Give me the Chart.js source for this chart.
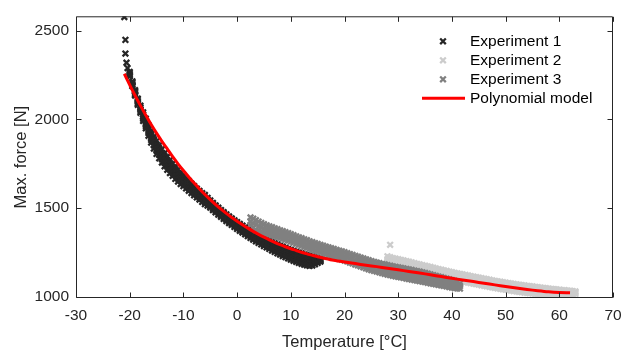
<!DOCTYPE html>
<html>
<head>
<meta charset="utf-8">
<script src="https://cdn.jsdelivr.net/npm/chart.js@4.4.1/dist/chart.umd.min.js"></script>
<style>
html,body{margin:0;padding:0;background:#ffffff;}
#wrap{width:635px;height:352px;}
</style>
</head>
<body>
<div id="wrap"><canvas id="c" width="635" height="352"></canvas></div>
<script>
// ---- tick labels ----
const xTicks = [-30, -20, -10, 0, 10, 20, 30, 40, 50, 60, 70];
const yTicks = [1000, 1500, 2000, 2500];

// ---- Experiment 1 ----
const exp1OutTemp  = [-21.0, -20.8, -20.8, -20.6, -20.4];
const exp1OutForce = [2578, 2449, 2372, 2320, 2290];
const exp1Temp = [-20,-19.5,-19,-18.5,-18,-17.5,-17,-16.5,-16,-15.5,-15,-14.5,-14,-13.5,-13,-12.5,-12,-11.5,-11,-10.5,-10,-9.5,-9,-8.5,-8,-7.5,-7,-6.5,-6,-5.5,-5,-4.5,-4,-3.5,-3,-2.5,-2,-1.5,-1,-0.5,0,0.5,1,1.5,2,2.5,3,3.5,4,4.5,5,5.5,6,6.5,7,7.5,8,8.5,9,9.5,10,10.5,11,11.5,12,12.5,13,13.5,14,14.5,15,15.5];
const exp1High   = [2268,2215,2165,2118,2078,2040,2005,1968,1935,1905,1878,1855,1832,1810,1790,1770,1752,1734,1717,1700,1684,1668,1653,1638,1624,1610,1597,1584,1574,1558,1543,1529,1515,1502,1489,1477,1465,1453,1442,1431,1421,1411,1401,1391,1382,1373,1364,1355,1347,1339,1331,1323,1316,1309,1302,1295,1288,1282,1276,1270,1265,1259,1254,1249,1244,1239,1235,1231,1227,1223,1219,1214];
const exp1Upper  = [2262,2208,2158,2110,2068,2028,1991,1955,1918,1889,1860,1838,1812,1793,1771,1753,1733,1718,1699,1685,1668,1655,1639,1626,1611,1599,1584,1573,1560,1548,1532,1520,1505,1494,1479,1469,1455,1445,1432,1423,1411,1403,1391,1382,1371,1364,1353,1346,1335,1329,1319,1313,1303,1298,1289,1284,1275,1270,1262,1258,1250,1246,1239,1236,1229,1226,1220,1217,1214,1213,1212,1210];
const exp1Mid    = [2255,2200,2150,2100,2058,2016,1976,1940,1900,1872,1840,1820,1792,1775,1751,1736,1714,1702,1681,1670,1652,1642,1624,1614,1597,1588,1570,1562,1546,1538,1520,1511,1494,1485,1468,1460,1444,1437,1421,1415,1400,1394,1380,1373,1360,1354,1341,1336,1323,1319,1306,1302,1290,1287,1275,1272,1261,1258,1247,1245,1235,1233,1223,1222,1213,1212,1204,1203,1200,1203,1205,1206];
const exp1Lower  = [2249,2194,2142,2092,2048,2004,1963,1924,1885,1854,1823,1800,1775,1755,1734,1717,1698,1684,1666,1653,1638,1627,1611,1600,1585,1574,1559,1549,1534,1526,1512,1500,1485,1474,1460,1450,1436,1427,1413,1405,1392,1383,1371,1363,1351,1343,1332,1325,1314,1307,1296,1290,1280,1274,1264,1259,1250,1244,1235,1231,1222,1218,1210,1207,1200,1197,1191,1189,1188,1193,1198,1202];
const exp1Low    = [2243,2188,2135,2083,2038,1992,1950,1908,1870,1836,1806,1781,1757,1736,1716,1698,1682,1665,1650,1636,1624,1611,1598,1585,1572,1560,1548,1535,1522,1514,1503,1489,1476,1463,1451,1439,1427,1416,1405,1394,1383,1372,1362,1352,1342,1332,1322,1313,1304,1295,1286,1278,1270,1261,1253,1245,1238,1230,1223,1216,1209,1203,1197,1191,1186,1181,1177,1174,1176,1183,1191,1198];

// ---- Experiment 2 ----
const exp2OutTemp  = [28.5];
const exp2OutForce = [1293];
const exp2Temp = [28,28.5,29,29.5,30,30.5,31,31.5,32,32.5,33,33.5,34,34.5,35,35.5,36,36.5,37,37.5,38,38.5,39,39.5,40,40.5,41,41.5,42,42.5,43,43.5,44,44.5,45,45.5,46,46.5,47,47.5,48,48.5,49,49.5,50,50.5,51,51.5,52,52.5,53,53.5,54,54.5,55,55.5,56,56.5,57,57.5,58,58.5,59,59.5,60,60.5,61,61.5,62,62.5,63];
const exp2High = [1228,1223,1218,1215,1212,1208,1205,1201,1198,1194,1190,1186,1182,1178,1175,1171,1168,1164,1160,1156,1153,1149,1146,1142,1139,1135,1132,1129,1126,1123,1120,1117,1114,1111,1108,1105,1102,1099,1096,1093,1090,1087,1085,1082,1080,1077,1075,1072,1070,1068,1066,1064,1062,1060,1058,1056,1054,1052,1050,1048,1046,1044,1043,1041,1040,1038,1037,1035,1034,1032,1030];
const exp2Mid  = [1212,1206,1199,1196,1191,1189,1184,1182,1177,1175,1169,1167,1161,1159,1154,1152,1147,1145,1139,1137,1132,1130,1125,1123,1118,1116,1111,1110,1105,1104,1099,1098,1093,1092,1087,1086,1081,1080,1075,1074,1069,1068,1064,1063,1059,1058,1054,1053,1049,1049,1045,1045,1041,1041,1038,1037,1034,1034,1031,1031,1029,1029,1027,1027,1025,1026,1024,1024,1023,1023,1023];
const exp2Low  = [1198,1188,1181,1176,1172,1168,1165,1161,1158,1154,1150,1146,1142,1138,1135,1131,1128,1124,1120,1116,1113,1109,1106,1102,1099,1095,1092,1089,1086,1083,1080,1077,1074,1071,1068,1065,1062,1059,1056,1053,1050,1047,1045,1042,1040,1037,1035,1032,1030,1028,1026,1024,1022,1020,1019,1017,1016,1015,1014,1013,1013,1012,1012,1012,1012,1012,1012,1012,1013,1014,1016];

// ---- Experiment 3 ----
const exp3Temp = [2.5,3,3.5,4,4.5,5,5.5,6,6.5,7,7.5,8,8.5,9,9.5,10,10.5,11,11.5,12,12.5,13,13.5,14,14.5,15,15.5,16,16.5,17,17.5,18,18.5,19,19.5,20,20.5,21,21.5,22,22.5,23,23.5,24,24.5,25,25.5,26,26.5,27,27.5,28,28.5,29,29.5,30,30.5,31,31.5,32,32.5,33,33.5,34,34.5,35,35.5,36,36.5,37,37.5,38,38.5,39,39.5,40,40.5,41,41.5];
const exp3High = [1447,1440,1432,1424,1416,1409,1403,1397,1392,1386,1381,1375,1370,1364,1359,1353,1347,1341,1335,1330,1324,1319,1313,1308,1303,1298,1293,1288,1283,1279,1274,1270,1265,1260,1256,1251,1246,1241,1236,1231,1226,1221,1216,1211,1206,1201,1197,1193,1189,1185,1182,1178,1175,1172,1169,1166,1163,1160,1157,1154,1151,1148,1145,1142,1138,1134,1130,1126,1122,1118,1114,1110,1106,1102,1098,1094,1089,1084,1076];
const exp3Mid  = [1426,1412,1407,1395,1392,1382,1380,1372,1371,1362,1361,1352,1350,1342,1340,1331,1328,1318,1316,1307,1304,1296,1293,1285,1283,1274,1273,1264,1263,1255,1253,1245,1244,1235,1234,1226,1224,1216,1214,1205,1203,1195,1193,1184,1182,1174,1173,1166,1165,1158,1157,1150,1150,1143,1143,1137,1137,1131,1131,1125,1125,1119,1119,1113,1113,1107,1106,1100,1099,1093,1092,1086,1085,1079,1078,1072,1070,1065,1061];
const exp3Low  = [1405,1388,1378,1370,1364,1359,1355,1350,1346,1341,1337,1332,1327,1322,1317,1311,1305,1299,1293,1287,1281,1276,1270,1265,1259,1254,1249,1244,1239,1234,1229,1224,1219,1214,1209,1204,1199,1193,1188,1182,1177,1171,1166,1160,1155,1150,1146,1142,1138,1133,1129,1125,1122,1118,1115,1112,1109,1106,1103,1100,1097,1094,1091,1088,1085,1082,1079,1076,1073,1070,1067,1064,1061,1058,1055,1052,1049,1047,1046];

// ---- Polynomial model ----
const modelTemp  = [-21,-20,-19,-18,-17,-16,-15,-14,-13,-12,-11,-10,-9,-8,-7,-6,-5,-4,-3,-2,-1,0,1,2,3,4,5,6,7,8,9,10,11,12,13,14,15,16,18,20,22,24,26,28,30,32,34,36,38,40,42,44,46,48,50,52,54,56,58,60,62];
const modelForce = [2258,2195,2135,2078,2024,1972,1923,1877,1834,1790,1750,1712,1676,1641,1608,1577,1548,1520,1494,1470,1447,1426,1406,1387,1369,1352,1336,1321,1307,1294,1282,1271,1261,1251,1242,1234,1226,1219,1206,1196,1187,1178,1170,1161,1152,1143,1134,1124,1114,1104,1095,1086,1076,1067,1058,1049,1041,1034,1028,1024,1022];

const seriesNames  = ['Experiment 1', 'Experiment 2', 'Experiment 3', 'Polynomial model'];
const seriesColors = ['#262626', '#cccccc', '#808080', '#ff0000'];

function collect(outT, outF, temps, rows) {
  const pts = [];
  outT.forEach((t, i) => pts.push({x: t, y: outF[i]}));
  rows.forEach(r => r.forEach((f, i) => pts.push({x: temps[i], y: f})));
  return pts;
}
const exp1Points = collect(exp1OutTemp, exp1OutForce, exp1Temp, [exp1High, exp1Upper, exp1Mid, exp1Lower, exp1Low]);
const exp2Points = collect(exp2OutTemp, exp2OutForce, exp2Temp, [exp2High, exp2Mid, exp2Low]);
const exp3Points = collect([], [], exp3Temp, [exp3High, exp3Mid, exp3Low]);
const modelPoints = modelTemp.map((t, i) => ({x: t, y: modelForce[i]}));

const FONT = "'Liberation Sans', Arial, Helvetica, sans-serif";
const AX = '#262626';
const MARK_R = 4, MARK_W = 2.3;

function crossRot(ctx, x, y, r) {
  const d = r * Math.SQRT1_2;
  ctx.beginPath();
  ctx.moveTo(x - d, y - d); ctx.lineTo(x + d, y + d);
  ctx.moveTo(x - d, y + d); ctx.lineTo(x + d, y - d);
  ctx.stroke();
}

const frame = {
  id: 'frame',
  afterDatasetsDraw(chart) {
    const {ctx, chartArea: a, scales} = chart;
    ctx.save();
    ctx.strokeStyle = AX;
    ctx.lineWidth = 1;
    const L = a.left + 0.5, R = a.right - 0.5, T = a.top + 0.5, B = a.bottom - 0.5;
    ctx.beginPath();
    ctx.rect(L, T, R - L, B - T);
    ctx.stroke();
    const tl = 5;
    ctx.beginPath();
    xTicks.forEach(v => {
      const px = Math.round(scales.x.getPixelForValue(v)) + 0.5;
      ctx.moveTo(px, B); ctx.lineTo(px, B - tl);
      ctx.moveTo(px, T); ctx.lineTo(px, T + tl);
    });
    yTicks.forEach(v => {
      const py = Math.round(scales.y.getPixelForValue(v)) + 0.5;
      ctx.moveTo(L, py); ctx.lineTo(L + tl, py);
      ctx.moveTo(R, py); ctx.lineTo(R - tl, py);
    });
    ctx.stroke();

    // legend
    const mx = a.right - 170, tx = a.right - 143;
    const rows = [a.top + 25, a.top + 44, a.top + 63, a.top + 82];
    ctx.font = '15.5px ' + FONT;
    ctx.textBaseline = 'middle';
    ctx.textAlign = 'left';
    seriesNames.forEach((name, i) => {
      const y = rows[i];
      ctx.strokeStyle = seriesColors[i];
      if (i < 3) {
        ctx.lineWidth = MARK_W;
        crossRot(ctx, mx, y, MARK_R);
      } else {
        ctx.lineWidth = 3;
        ctx.beginPath();
        ctx.moveTo(a.right - 191, y); ctx.lineTo(a.right - 148, y);
        ctx.stroke();
      }
      ctx.fillStyle = '#000000';
      ctx.fillText(name, tx, y);
    });
    ctx.restore();
  }
};

const markerDs = (i, pts, order) => ({
  label: seriesNames[i], data: pts, showLine: false,
  pointStyle: 'crossRot', pointRadius: MARK_R, pointHoverRadius: MARK_R,
  pointBorderWidth: MARK_W, borderColor: seriesColors[i], backgroundColor: seriesColors[i],
  order: order
});

new Chart(document.getElementById('c'), {
  type: 'scatter',
  data: {
    datasets: [
      markerDs(0, exp1Points, 3),
      markerDs(1, exp2Points, 2),
      markerDs(2, exp3Points, 1),
      {
        label: seriesNames[3], data: modelPoints, showLine: true,
        borderColor: seriesColors[3], borderWidth: 3, pointRadius: 0,
        tension: 0.3, fill: false, order: 0
      }
    ]
  },
  options: {
    responsive: false, animation: false, devicePixelRatio: 1,
    layout: {padding: {top: 5, right: 22, left: 0, bottom: 0}},
    plugins: {legend: {display: false}, tooltip: {enabled: false}},
    scales: {
      x: {
        type: 'linear', min: -30, max: 70,
        afterBuildTicks: s => { s.ticks = xTicks.map(v => ({value: v})); },
        afterFit: s => { s.height = 54; },
        grid: {display: false, drawTicks: false},
        border: {display: false},
        ticks: {color: AX, font: {family: FONT, size: 15.5}, padding: 8, maxRotation: 0, autoSkip: false,
                callback: v => String(v)},
        title: {display: true, text: 'Temperature [°C]', color: AX, font: {family: FONT, size: 16.5}, padding: {top: 3, bottom: 0}}
      },
      y: {
        type: 'linear', min: 993, max: 2582,
        afterBuildTicks: s => { s.ticks = yTicks.map(v => ({value: v})); },
        afterFit: s => { s.width = 76; },
        grid: {display: false, drawTicks: false},
        border: {display: false},
        ticks: {color: AX, font: {family: FONT, size: 15.5}, padding: 7, autoSkip: false,
                callback: v => String(v)},
        title: {display: true, text: 'Max. force [N]', color: AX, font: {family: FONT, size: 16.5}, padding: {top: 12, bottom: 0}}
      }
    }
  },
  plugins: [frame]
});
</script>
</body>
</html>
